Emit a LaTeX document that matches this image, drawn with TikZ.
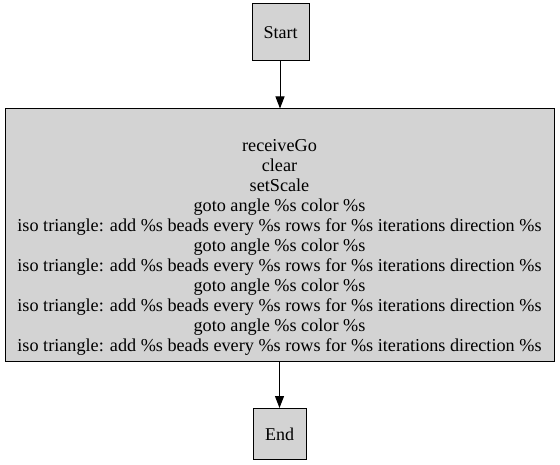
\documentclass[tikz,border=0pt]{standalone}
\usepackage{fontspec}
\setmainfont{Liberation Serif}
\usetikzlibrary{arrows.meta}
\begin{document}
\begin{tikzpicture}[x=1pt,y=-1pt,
  box/.style={draw=black, fill=lightgray!100, line width=1pt, inner sep=0pt, font=\fontsize{18}{20}\selectfont},
  conn/.style={draw=black, line width=1pt, -{Triangle[length=12pt,width=9pt]}},
  lbl/.style={font=\fontsize{18.2}{20}\selectfont, align=center, inner sep=0pt}]
\definecolor{lightgray}{HTML}{D3D3D3}
\useasboundingbox (0,0) rectangle (560,465);
\node[box, minimum width=57pt, minimum height=57pt] (start) at (280.5,32.5) {Start};
\node[box, minimum width=549pt, minimum height=252pt] (main) at (279.5,235) {};
\node[lbl] (maintext) at (279.5,247) {receiveGo\\clear\\setScale\\goto angle \%s color \%s\\iso triangle: add \%s beads every \%s rows for \%s iterations direction \%s\\goto angle \%s color \%s\\iso triangle: add \%s beads every \%s rows for \%s iterations direction \%s\\goto angle \%s color \%s\\iso triangle: add \%s beads every \%s rows for \%s iterations direction \%s\\goto angle \%s color \%s\\iso triangle: add \%s beads every \%s rows for \%s iterations direction \%s};
\node[box, minimum width=53pt, minimum height=51pt] (end) at (279.5,434) {End};
\draw[conn] (start.south -| main.north) ++(0.5,0) coordinate (s1) -- (s1 |- main.north);
\draw[conn] (main.south) -- (end.north);
\end{tikzpicture}
\end{document}
